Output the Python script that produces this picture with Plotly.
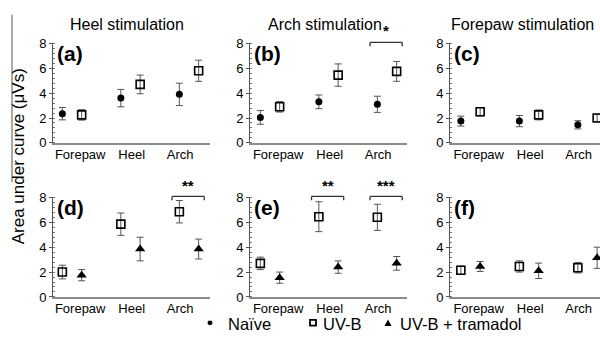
import plotly.graph_objects as go

# ---------------- data ----------------
sites = ["Forepaw", "Heel", "Arch"]
panel_letters = ["(a)", "(b)", "(c)", "(d)", "(e)", "(f)"]
col_titles = ["Heel stimulation", "Arch stimulation", "Forepaw stimulation"]

# top row: Naive vs UV-B
naive_mean = [[2.35, 3.6, 3.9], [2.05, 3.3, 3.1], [1.75, 1.75, 1.45]]
naive_err = [[0.5, 0.7, 0.9], [0.55, 0.55, 0.65], [0.4, 0.45, 0.33]]
uvb_top_mean = [[2.25, 4.7, 5.8], [2.9, 5.45, 5.75], [2.5, 2.25, 2.0]]
uvb_top_err = [[0.42, 0.75, 0.85], [0.42, 0.9, 0.8], [0.33, 0.4, 0.28]]

# bottom row: UV-B vs UV-B + tramadol
uvb_bot_mean = [[2.0, 5.85, 6.85], [2.7, 6.45, 6.4], [2.15, 2.45, 2.35]]
uvb_bot_err = [[0.55, 0.9, 0.9], [0.5, 1.2, 1.05], [0.33, 0.45, 0.42]]
tram_mean = [[1.75, 3.85, 3.85], [1.55, 2.4, 2.7], [2.45, 2.1, 3.15]]
tram_err = [[0.45, 0.95, 0.8], [0.45, 0.5, 0.55], [0.4, 0.62, 0.85]]

# significance brackets: (panel index, site index, label)
sig = [(1, 2, "*"), (3, 2, "**"), (4, 1, "**"), (4, 2, "***")]

legend_names = ["Naïve", "UV-B", "UV-B + tramadol"]

# ---------------- layout constants ----------------
W, H = 600, 348
FONT = "Liberation Sans, Arial, sans-serif"
col_left_px = [53, 250, 450]
col_c0_px = [72, 270, 470.5]
px_per_unit = 58.5
panel_w_px = 157
row_top_px = [38, 199]      # y = 8
row_bot_px = [142, 303]     # y = 0
off = 0.165
label_pos = [0.14, 1.02, 1.85]

def xp(px):
    return px / W

def yp(px):
    return 1 - px / H

fig = go.Figure()
ERR_COLOR = "#555555"

def add_series(ax_i, means, errs, symbol, size, fill, line_w, dx):
    xs = [i + dx for i in range(len(sites))]
    suffix = "" if ax_i == 0 else str(ax_i + 1)
    fig.add_trace(go.Scatter(
        x=xs, y=means, mode="markers",
        xaxis="x" + suffix, yaxis="y" + suffix,
        marker=dict(symbol=symbol, size=size, color=fill,
                    line=dict(color="black", width=line_w)),
        error_y=dict(type="data", array=errs, visible=True,
                     color=ERR_COLOR, thickness=1, width=3.5),
        showlegend=False, cliponaxis=False))

for c in range(3):
    add_series(c, naive_mean[c], naive_err[c], "circle", 7, "black", 0, -off)
    add_series(c, uvb_top_mean[c], uvb_top_err[c], "square-open", 8, "black", 1.6, off)
    add_series(c + 3, uvb_bot_mean[c], uvb_bot_err[c], "square-open", 8, "black", 1.6, -off)
    add_series(c + 3, tram_mean[c], tram_err[c], "triangle-up", 9, "black", 0, off)

layout = dict(width=W, height=H, margin=dict(l=0, r=0, t=0, b=0),
              paper_bgcolor="white", plot_bgcolor="white",
              font=dict(family=FONT, color="black", size=13),
              showlegend=False)

shapes = []
annotations = []

for p in range(6):
    r, c = divmod(p, 3)
    suffix = "" if p == 0 else str(p + 1)
    left = col_left_px[c]
    right = min(left + panel_w_px, W)
    c0 = col_c0_px[c]
    xr = [-(c0 - left) / px_per_unit, (right - c0) / px_per_unit]
    layout["xaxis" + suffix] = dict(
        domain=[xp(left), xp(right)], range=xr, anchor="y" + suffix,
        tickmode="array", tickvals=label_pos, ticktext=sites,
        showline=True, linecolor="#8c8c8c", linewidth=1.5,
        ticks="", showgrid=False, zeroline=False, ticklabelstandoff=-1,
        tickfont=dict(size=13, family=FONT, color="black"), fixedrange=True)
    layout["yaxis" + suffix] = dict(
        domain=[yp(row_bot_px[r]), yp(row_top_px[r])], range=[0, 8],
        anchor="x" + suffix, tickvals=[0, 2, 4, 6, 8],
        showline=True, linecolor="#555555", linewidth=1,
        ticks="outside", ticklen=3, tickcolor="#555555",
        minor=dict(dtick=0.4, ticks="inside", ticklen=2, tickcolor="#777777"),
        showgrid=False, zeroline=False,
        tickfont=dict(size=13, family=FONT, color="black"), fixedrange=True)
    # panel letter
    annotations.append(dict(
        text="<b>" + panel_letters[p] + "</b>", xref="paper", yref="paper",
        x=xp(left + 2), y=yp(row_top_px[r] + 11), xanchor="left", yanchor="middle",
        showarrow=False, font=dict(size=21, family=FONT, color="black")))

# column titles
title_centers = [127, 325, 522]
for c in range(3):
    annotations.append(dict(
        text=col_titles[c], xref="paper", yref="paper",
        x=xp(title_centers[c]), y=yp(18), xanchor="center", yanchor="middle",
        showarrow=False, font=dict(size=16, family=FONT, color="black")))

# y-axis title
annotations.append(dict(
    text="Area under curve (μVs)", xref="paper", yref="paper",
    x=xp(18), y=yp(156), xanchor="center", yanchor="middle", textangle=-90,
    showarrow=False, font=dict(size=17, family=FONT, color="black")))

# stray vertical rule at the far left
shapes.append(dict(type="line", xref="paper", yref="paper",
                   x0=xp(12), x1=xp(12), y0=yp(8), y1=yp(183),
                   line=dict(color="#8c8c8c", width=1.5)))

# significance brackets
for (p, s, lab) in sig:
    r, c = divmod(p, 3)
    suffix = "" if p == 0 else str(p + 1)
    by = row_top_px[r] - 1
    x0, x1 = s - 0.29, s + 0.26
    for (xa, xb, ya, yb) in [(x0, x1, by, by), (x0, x0, by, by + 4), (x1, x1, by, by + 4)]:
        shapes.append(dict(type="line", xref="x" + suffix, yref="paper",
                           x0=xa, x1=xb, y0=yp(ya), y1=yp(yb),
                           line=dict(color="#333333", width=1.3)))
    annotations.append(dict(
        text="<b>" + lab + "</b>", xref="x" + suffix, yref="paper",
        x=(x0 + x1) / 2, y=yp(by - 1), xanchor="center", yanchor="bottom",
        showarrow=False, font=dict(size=15, family=FONT, color="black")))

# manual legend
ly = 330
shapes.append(dict(type="circle", xref="paper", yref="paper",
                   x0=xp(207.5), x1=xp(212.5), y0=yp(ly + 2.5), y1=yp(ly - 2.5),
                   fillcolor="black", line=dict(color="black", width=0)))
shapes.append(dict(type="rect", xref="paper", yref="paper",
                   x0=xp(310), x1=xp(316), y0=yp(ly + 3), y1=yp(ly - 3),
                   fillcolor="white", line=dict(color="black", width=1.8)))
shapes.append(dict(type="path", xref="paper", yref="paper",
                   path="M {:.4f},{:.4f} L {:.4f},{:.4f} L {:.4f},{:.4f} Z".format(
                       xp(384.5), yp(ly + 3.5), xp(391.5), yp(ly + 3.5), xp(388), yp(ly - 3.5)),
                   fillcolor="black", line=dict(color="black", width=0)))
legend_x = [227, 322, 399]
for name, lx in zip(legend_names, legend_x):
    annotations.append(dict(
        text=name, xref="paper", yref="paper", x=xp(lx), y=yp(ly + 1),
        xanchor="left", yanchor="middle", showarrow=False, borderpad=0,
        font=dict(size=16.5, family=FONT, color="black")))

layout["shapes"] = shapes
layout["annotations"] = annotations
fig.update_layout(**layout)
fig.write_html("out.html")
